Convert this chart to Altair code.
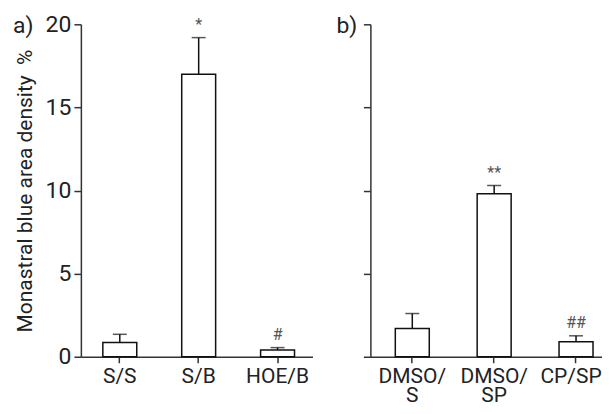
import altair as alt
import pandas as pd

cats_a = ["S/S", "S/B", "HOE/B"]
mean_a = [0.85, 17.0, 0.4]
err_a = [0.5, 2.2, 0.15]
sig_a = ["", "*", "#"]

cats_b = ["DMSO/\nS", "DMSO/\nSP", "CP/SP"]
mean_b = [1.7, 9.8, 0.9]
err_b = [0.9, 0.5, 0.36]
sig_b = ["", "**", "##"]

y_ticks = [0, 5, 10, 15, 20]
y_title = "Monastral blue area density\u00a0 %"

FONT = "Roboto, Liberation Sans Narrow, sans-serif"
INK = "#222222"
LINE = "#333333"


def panel(cats, means, errs, sigs, label, pad_in, pad_out, align, show_y):
    df = pd.DataFrame({"cat": cats, "mean": means, "err": errs, "sig": sigs})
    df["hi"] = df["mean"] + df["err"]
    xs = alt.X(
        "cat:N",
        sort=cats,
        scale=alt.Scale(paddingInner=pad_in, paddingOuter=pad_out, align=align),
        axis=alt.Axis(
            title=None, labelAngle=0, tickSize=6, labelPadding=3, labelFontSize=21,
            labelExpr="split(datum.label, '\\n')", labelLineHeight=19,
            labelOffset={"condition": {"test": "datum.value === 'CP/SP'", "value": -5}, "value": 0},
        ),
    )
    if show_y:
        yaxis = alt.Axis(values=y_ticks, title=y_title, grid=False, tickSize=7,
                         labelPadding=3, titlePadding=10, labelFontSize=23, titleFontSize=21)
    else:
        yaxis = alt.Axis(values=y_ticks, title=None, labels=False, grid=False, tickSize=7)
    ys = alt.Y("mean:Q", scale=alt.Scale(domain=[0, 20], nice=False), axis=yaxis)
    base = alt.Chart(df)
    bars = base.mark_bar(fill="white", stroke="#111111", strokeWidth=1.5).encode(x=xs, y=ys)
    rule = base.mark_rule(color="#111111", strokeWidth=1.5).encode(
        x=alt.X("cat:N", sort=cats), y="mean:Q", y2="hi:Q")
    cap = base.mark_tick(color="#111111", thickness=1.5, size=14).encode(
        x=alt.X("cat:N", sort=cats), y="hi:Q")
    star = base.mark_text(fontSize=16, baseline="bottom", dy=-5, color="#555555", font=FONT).encode(
        x=alt.X("cat:N", sort=cats), y="hi:Q", text="sig:N")
    lab = alt.Chart(pd.DataFrame({"t": [label]})).mark_text(
        fontSize=23, align="left", baseline="middle", color=INK, font=FONT
    ).encode(x=alt.value(-68 if show_y else -34), y=alt.value(2), text="t:N")
    return alt.layer(bars, rule, cap, star, lab).properties(width=232, height=333)


a = panel(cats_a, mean_a, err_a, sig_a, "a)", 0.57, 0.253, 0.55, True)
b = panel(cats_b, mean_b, err_b, sig_b, "b)", 0.585, 0.207, 0.735, False)

chart = alt.hconcat(a, b, spacing=58, bounds="flush").properties(
    padding={"left": 5, "top": 5, "right": 0, "bottom": 0}
).configure_view(stroke=None).configure_axis(
    labelFont=FONT, titleFont=FONT, labelFontSize=22, titleFontSize=21,
    labelColor=INK, titleColor=INK, titleFontWeight="normal",
    domainColor=LINE, tickColor=LINE, domainWidth=1.5, tickWidth=1.5,
)

chart.save("out.html", embed_options={"renderer": "svg", "actions": False})
